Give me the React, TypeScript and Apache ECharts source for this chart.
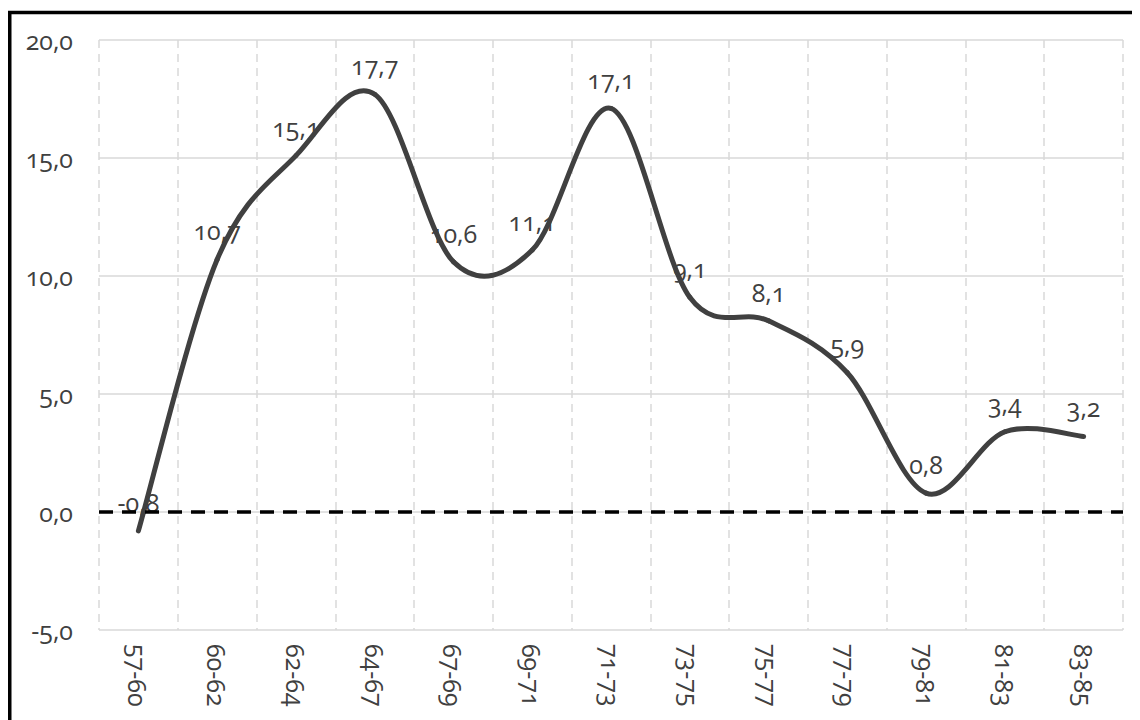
import React, { useEffect, useRef } from "react";
import * as echarts from "echarts";

const categories = ["57-60", "60-62", "62-64", "64-67", "67-69", "69-71", "71-73", "73-75", "75-77", "77-79", "79-81", "81-83", "83-85"];
const values = [-0.8, 10.7, 15.1, 17.7, 10.6, 11.1, 17.1, 9.1, 8.1, 5.9, 0.8, 3.4, 3.2];
const yMin = -5;
const yMax = 20;
const yStep = 5;

const TEXT = "#404040";
const GRID = "#d9d9d9";
const FONT = "'Open Sans', 'Noto Sans', sans-serif";
const FS = 25;
const fmt = (v: number) => v.toFixed(1).replace(".", ",");

export default function App() {
  const ref = useRef<HTMLDivElement>(null);
  useEffect(() => {
    if (!ref.current) return;
    const chart = echarts.init(ref.current, null, { renderer: "svg" });
    const segIdx = values.slice(0, -1).map((_, i) => i);
    chart.setOption({
      animation: false,
      backgroundColor: "#ffffff",
      textStyle: { fontFamily: FONT },
      grid: { left: 91, right: 17, top: 32, bottom: 90, containLabel: false },
      xAxis: {
        type: "category",
        data: categories,
        boundaryGap: true,
        axisLine: { show: false },
        axisTick: { show: false },
        axisLabel: { rotate: -90, margin: 14, color: TEXT, fontSize: FS, fontFamily: FONT, interval: 0 },
        splitLine: { show: true, interval: 0, lineStyle: { color: GRID, width: 1.5, type: [8, 6] } },
      },
      yAxis: {
        type: "value",
        min: yMin,
        max: yMax,
        interval: yStep,
        axisLine: { show: false },
        axisTick: { show: false },
        axisLabel: { color: TEXT, fontSize: FS, fontFamily: FONT, margin: 26, formatter: (v: number) => fmt(v) },
        splitLine: { show: true, lineStyle: { color: GRID, width: 1.5 } },
      },
      series: [
        {
          type: "line",
          data: values,
          symbol: "circle",
          symbolSize: 1,
          showSymbol: true,
          itemStyle: { color: "rgba(0,0,0,0)" },
          lineStyle: { opacity: 0, width: 0 },
          label: {
            show: true,
            position: "top",
            distance: 16,
            color: TEXT,
            fontSize: FS,
            fontFamily: FONT,
            formatter: (p: any) => fmt(p.value),
          },
          markLine: {
            silent: true,
            symbol: "none",
            label: { show: false },
            lineStyle: { color: "#000000", width: 3.5, type: [14, 9] },
            data: [{ yAxis: 0 }],
          },
          z: 2,
        },
        {
          type: "custom",
          data: segIdx,
          silent: true,
          z: 3,
          renderItem: (params: any, api: any) => {
            const i = params.dataIndex;
            const n = values.length;
            const p = (k: number) => {
              const kk = Math.max(0, Math.min(n - 1, k));
              return api.coord([kk, values[kk]]);
            };
            const p0 = p(i - 1);
            const p1 = p(i);
            const p2 = p(i + 1);
            const p3 = p(i + 2);
            const t = 1 / 6;
            return {
              type: "bezierCurve",
              shape: {
                x1: p1[0],
                y1: p1[1],
                x2: p2[0],
                y2: p2[1],
                cpx1: p1[0] + (p2[0] - p0[0]) * t,
                cpy1: p1[1] + (p2[1] - p0[1]) * t,
                cpx2: p2[0] - (p3[0] - p1[0]) * t,
                cpy2: p2[1] - (p3[1] - p1[1]) * t,
              },
              style: { stroke: TEXT, lineWidth: 5, fill: "none", lineCap: "round" },
            };
          },
        },
      ],
      graphic: [
        { type: "line", shape: { x1: 1.75, y1: 3, x2: 1.75, y2: 712 }, style: { stroke: "#000", lineWidth: 3.5 } },
        { type: "line", shape: { x1: 0, y1: 4.5, x2: 1132, y2: 4.5 }, style: { stroke: "#000", lineWidth: 3.5 } },
      ],
    });
    return () => chart.dispose();
  }, []);
  return (
    <>
      <style>{`.chartbox text { font-variant-numeric: oldstyle-nums !important; font-feature-settings: "onum" 1 !important; }`}</style>
      <div className="chartbox" ref={ref} style={{ width: 1132, height: 712 }} />
    </>
  );
}
